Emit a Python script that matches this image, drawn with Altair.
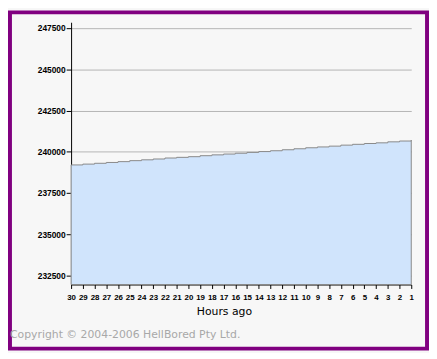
import altair as alt
import pandas as pd

hours = list(range(30, 0, -1))
values = [239200, 239250, 239300, 239350, 239400, 239460, 239510, 239560, 239620, 239660,
          239700, 239760, 239810, 239860, 239910, 239960, 240010, 240060, 240120, 240180,
          240240, 240290, 240340, 240400, 240450, 240500, 240540, 240600, 240650, 240700]
y_ticks = [232500, 235000, 237500, 240000, 242500, 245000, 247500]
y_domain = [231950, 247850]
x_title = "Hours ago"
copyright_text = "Copyright © 2004-2006 HellBored Pty Ltd."

df = pd.DataFrame({"hours": hours, "value": values})
one = pd.DataFrame({"a": [0]})

label_font = "Liberation Sans"

area = alt.Chart(df).mark_area(
    interpolate="step-after", color="#d0e4fc", stroke="#888888", strokeWidth=1
).encode(
    x=alt.X("hours:Q",
            scale=alt.Scale(domain=[1, 30], reverse=True, nice=False, zero=False),
            axis=alt.Axis(values=hours, format="d", labelOverlap=False, labelFlush=False,
                          title=x_title, grid=False, domainColor="#000000",
                          tickColor="#000000", tickSize=4, labelPadding=5,
                          labelFont=label_font, labelFontSize=8, labelFontWeight="bold",
                          labelColor="#000000",
                          titleFont="DejaVu Sans", titleFontSize=11, titleFontWeight="normal",
                          titleColor="#000000", titleX=155, titleY=30,
                          titleBaseline="alphabetic", titleAnchor="start", titleAlign="center")),
    y=alt.Y("value:Q",
            scale=alt.Scale(domain=y_domain, nice=False, zero=False),
            axis=alt.Axis(values=y_ticks, format="d", title=None, grid=True,
                          gridColor="#b4b4b4", gridWidth=1, domainColor="#000000",
                          tickColor="#000000", tickSize=5, labelPadding=1,
                          labelFont=label_font, labelFontSize=8.5, labelFontWeight="bold",
                          labelColor="#000000")),
    y2=alt.datum(y_domain[0]),
)

border = alt.Chart(one).mark_rect(
    fillOpacity=0, stroke="#800080", strokeWidth=4
).encode(
    x=alt.value(-62), x2=alt.value(361), y=alt.value(-10), y2=alt.value(331)
)

copyright = alt.Chart(one).mark_text(
    text=copyright_text, align="left", baseline="middle",
    font="DejaVu Sans", fontSize=11, color="#a8a8a8"
).encode(x=alt.value(-62), y=alt.value(317))

chart = alt.layer(area, border, copyright).properties(
    width=345, height=266,
    background="#f7f7f7",
    padding={"left": 64, "top": 12, "right": 18, "bottom": 67},
    autosize=alt.AutoSizeParams(type="none"),
).configure_view(stroke=None, fill="#f7f7f7")

chart.save("out.html", embed_options={"renderer": "svg", "actions": False})
